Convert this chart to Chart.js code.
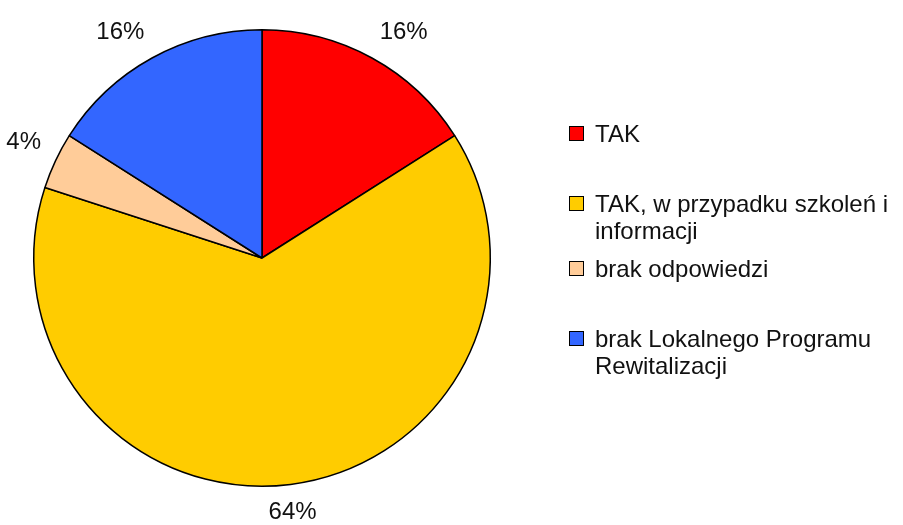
<!DOCTYPE html>
<html>
<head>
<meta charset="utf-8">
<script src="https://cdn.jsdelivr.net/npm/chart.js@4"></script>
<style>
  html, body { margin: 0; padding: 0; background: #ffffff; }
  #wrap { position: relative; width: 903px; height: 525px; }
  #c { position: absolute; left: 0; top: 0; }
  .leg { position: absolute; left: 569px; font-family: "Liberation Sans", Arial, sans-serif;
         font-size: 24px; line-height: 27px; color: #111; }
  .leg .sw { position: absolute; left: 0; top: 6px; width: 13px; height: 13px; border: 1.5px solid #000; }
  .leg .tx { position: absolute; left: 26px; top: 0; white-space: nowrap; }
</style>
</head>
<body>
<div id="wrap">
  <canvas id="c" width="903" height="525"></canvas>
</div>
<script>
const categories = ["TAK", "TAK, w przypadku szkoleń i informacji", "brak odpowiedzi", "brak Lokalnego Programu Rewitalizacji"];
const legendLines = [["TAK"], ["TAK, w przypadku szkoleń i", "informacji"], ["brak odpowiedzi"], ["brak Lokalnego Programu", "Rewitalizacji"]];
const values = [16, 64, 4, 16];
const colors = ["#ff0000", "#ffcc00", "#ffcc99", "#3366ff"];
const legendTops = [120, 190, 255, 325];

const wrap = document.getElementById('wrap');
legendLines.forEach((lines, i) => {
  const d = document.createElement('div');
  d.className = 'leg';
  d.style.top = legendTops[i] + 'px';
  const sw = document.createElement('div');
  sw.className = 'sw';
  sw.style.background = colors[i];
  const tx = document.createElement('div');
  tx.className = 'tx';
  tx.innerHTML = lines.join('<br>');
  d.appendChild(sw); d.appendChild(tx);
  wrap.appendChild(d);
});

const outsideLabels = {
  id: 'outsideLabels',
  afterDatasetsDraw(chart) {
    const ctx = chart.ctx;
    const meta = chart.getDatasetMeta(0);
    const data = chart.data.datasets[0].data;
    const total = data.reduce((a, b) => a + b, 0);
    ctx.save();
    ctx.font = '24px "Liberation Sans", Arial, sans-serif';
    ctx.fillStyle = '#111';
    meta.data.forEach((arc, i) => {
      const p = arc.getProps(['x', 'y', 'startAngle', 'endAngle', 'outerRadius'], true);
      const mid = (p.startAngle + p.endAngle) / 2;
      const r = p.outerRadius + 16;
      const ax = p.x + Math.cos(mid) * r;
      const ay = p.y + Math.sin(mid) * r;
      const c = Math.cos(mid), s = Math.sin(mid);
      ctx.textAlign = c > 0.2 ? 'left' : (c < -0.2 ? 'right' : 'center');
      ctx.textBaseline = s < -0.2 ? 'bottom' : (s > 0.2 ? 'top' : 'middle');
      const txt = Math.round(data[i] / total * 100) + '%';
      ctx.fillText(txt, ax, ay);
    });
    ctx.restore();
  }
};

new Chart(document.getElementById('c'), {
  type: 'pie',
  data: {
    labels: categories,
    datasets: [{
      data: values,
      backgroundColor: colors,
      borderColor: '#000000',
      borderWidth: 1.5
    }]
  },
  options: {
    responsive: false,
    animation: false,
    layout: { padding: { left: 33, top: 29, right: 412, bottom: 38 } },
    plugins: {
      legend: { display: false },
      tooltip: { enabled: false }
    }
  },
  plugins: [outsideLabels]
});
</script>
</body>
</html>
